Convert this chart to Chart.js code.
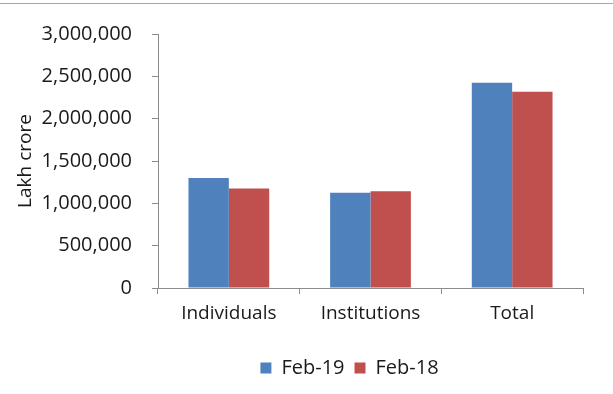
<!DOCTYPE html>
<html>
<head>
<meta charset="utf-8">
<script src="https://cdn.jsdelivr.net/npm/chart.js@4/dist/chart.umd.min.js"></script>
<style>
  html, body { margin: 0; padding: 0; background: #fff; }
  #wrap { position: relative; width: 613px; height: 394px; }
  #topline { position: absolute; left: 0; right: 0; top: 3px; height: 0; border-top: 1px solid #a6a6a6; }
  canvas { position: absolute; left: 0; top: 0; }
</style>
</head>
<body>
<div id="wrap">
  <div id="topline"></div>
  <canvas id="c" width="613" height="394"></canvas>
</div>
<script>
// Holdings by investor type, in lakh crore
const categories = ['Individuals', 'Institutions', 'Total'];
const feb19 = [1300000, 1125000, 2425000];
const feb18 = [1175000, 1143000, 2318000];
const seriesLabels = ['Feb-19', 'Feb-18'];
const yTicks = [0, 500000, 1000000, 1500000, 2000000, 2500000, 3000000];

const FONT = 'Open Sans';
const TEXT = '#1a1a1a';
const AXIS = '#8c8c8c';

// Nudge the legend row to the right so it sits under the plot area
const legendShift = {
  id: 'legendShift',
  afterLayout(chart) {
    const l = chart.legend;
    if (l) { l.left += 58; l.right += 58; }
  }
};

new Chart(document.getElementById('c'), {
  type: 'bar',
  data: {
    labels: categories,
    datasets: [
      { label: seriesLabels[0], data: feb19, backgroundColor: '#4F81BD', borderWidth: 0 },
      { label: seriesLabels[1], data: feb18, backgroundColor: '#C0504D', borderWidth: 0 }
    ]
  },
  options: {
    responsive: false,
    animation: false,
    layout: { padding: { top: 34, right: 30, bottom: 6, left: 0 } },
    datasets: { bar: { barPercentage: 1, categoryPercentage: 0.57 } },
    scales: {
      x: {
        afterFit: s => { s.height = 60; },
        grid: { drawOnChartArea: false, drawTicks: true, tickLength: 6, color: AXIS, offset: true },
        border: { color: AXIS, width: 1 },
        ticks: { color: TEXT, font: { family: FONT, size: 19 }, padding: 8 }
      },
      y: {
        min: 0, max: 3000000,
        afterFit: s => { s.width = 158; },
        afterBuildTicks: s => { s.ticks = yTicks.map(v => ({ value: v })); },
        grid: { drawOnChartArea: false, drawTicks: true, tickLength: 6, color: AXIS },
        border: { color: AXIS, width: 1 },
        ticks: {
          color: TEXT, font: { family: FONT, size: 20 }, padding: 20,
          callback: v => v.toLocaleString('en-US')
        },
        title: {
          display: true, text: 'Lakh crore', color: TEXT,
          font: { family: FONT, size: 19 }, padding: { top: 14, bottom: 0 }
        }
      }
    },
    plugins: {
      legend: {
        position: 'bottom',
        labels: {
          color: TEXT, font: { family: FONT, size: 20 },
          boxWidth: 11, boxHeight: 11, padding: 10
        }
      },
      tooltip: { enabled: false }
    }
  },
  plugins: [legendShift]
});
</script>
</body>
</html>
